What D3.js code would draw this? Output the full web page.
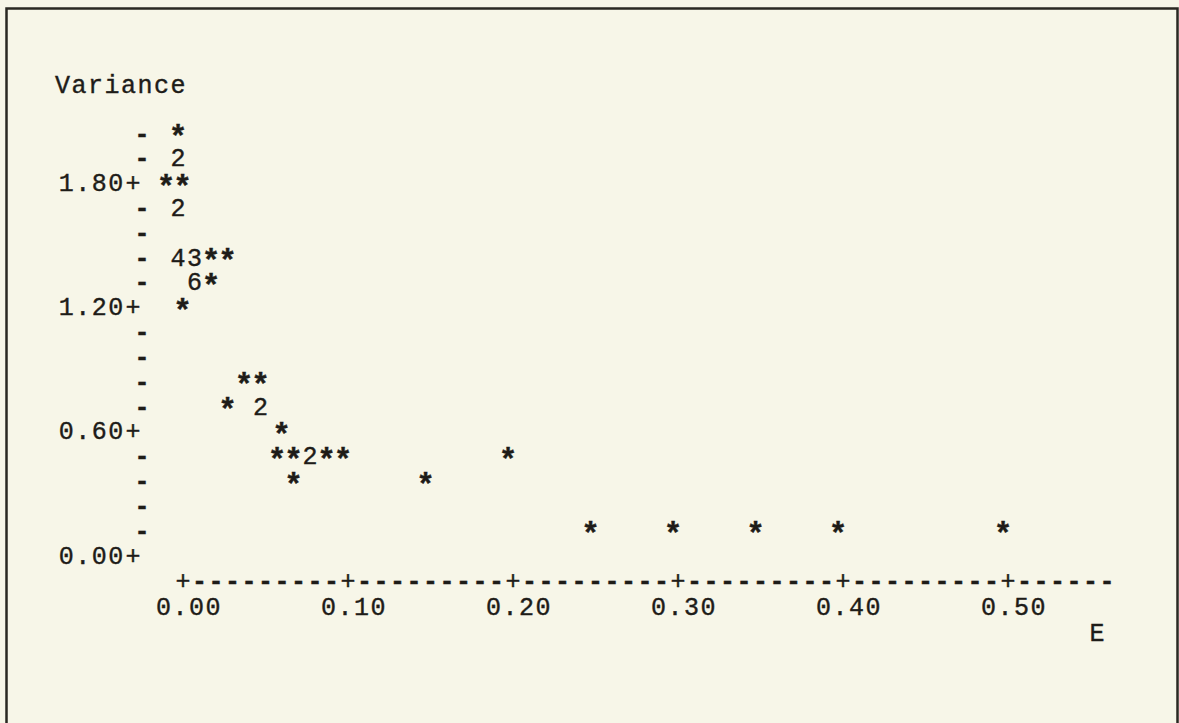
<!DOCTYPE html>
<html>
<head>
<meta charset="utf-8">
<script src="https://cdn.jsdelivr.net/npm/d3@7"></script>
<style>
  html, body { margin: 0; padding: 0; background: #f7f6e8; }
  svg { display: block; }
  text { font-family: "Liberation Mono", "DejaVu Sans Mono", monospace; fill: #1e1c18; }
</style>
</head>
<body>
<script>
// ---- data ----
const E        = [0.00, 0.00, 0.00, 0.01, 0.00, 0.00, 0.01, 0.02, 0.03, 0.01, 0.02, 0.01,
                  0.04, 0.05, 0.03, 0.05, 0.07, 0.06, 0.07, 0.08, 0.09, 0.10, 0.20,
                  0.07, 0.15, 0.25, 0.30, 0.35, 0.40, 0.50];
const variance = [2.04, 1.92, 1.80, 1.80, 1.68, 1.44, 1.44, 1.44, 1.44, 1.32, 1.32, 1.20,
                  0.84, 0.84, 0.72, 0.72, 0.60, 0.48, 0.48, 0.48, 0.48, 0.48, 0.48,
                  0.36, 0.36, 0.12, 0.12, 0.12, 0.12, 0.12];
const counts   = [1, 2, 1, 1, 2, 4, 3, 1, 1, 6, 1, 1,
                  1, 1, 1, 2, 1, 1, 1, 2, 1, 1, 1,
                  1, 1, 1, 1, 1, 1, 1];
const yTickValues = [0.00, 0.60, 1.20, 1.80];
const yTickLabels = ["0.00", "0.60", "1.20", "1.80"];
const yRowStep = 0.12;
const yTop = 2.04;
const xTickValues = [0.00, 0.10, 0.20, 0.30, 0.40, 0.50];
const xTickLabels = ["0.00", "0.10", "0.20", "0.30", "0.40", "0.50"];
const xAxisEnd = 0.56;
const xTitle = "E";
const yTitle = "Variance";

// ---- layout ----
const W = 1179, H = 723;
const FS = 25;
const colW = 16.5;
const svg = d3.select("body").append("svg").attr("width", W).attr("height", H);

// frame
svg.append("path").attr("d", `M6.5,${H} V8.5 H1177.5 V${H}`)
  .attr("fill", "none").attr("stroke", "#2a2822").attr("stroke-width", 2.5);

const x = d3.scaleLinear().domain([0, 0.5]).range([178, 178 + colW * 50]);
const y = d3.scaleLinear().domain([0, yTop]).range([555, 133]);

const g = svg.append("g").attr("font-size", FS).style("stroke", "#1e1c18").style("stroke-width", 0.4);

const axisX = x(0) - 36;          // column of the vertical axis
const tickShift = -12;            // labelled lines are printed slightly to the left
const baseOff = 8.5;              // text baseline below row centre
const isTickRow = v => yTickValues.some(t => Math.abs(t - v) < 1e-6);

// y title
g.append("text").attr("x", 55).attr("y", 85 + 8).attr("letter-spacing", colW - 0.6 * FS).text(yTitle);

// vertical axis rows
const nRows = Math.round(yTop / yRowStep);
const rows = d3.range(0, nRows + 1).map(i => +(i * yRowStep).toFixed(2));
g.selectAll("text.dash").data(rows.filter(v => !isTickRow(v))).join("text")
  .attr("class", "dash")
  .attr("x", axisX).attr("y", v => y(v) + baseOff)
  .attr("text-anchor", "middle").attr("font-weight", "bold").text("-");

g.selectAll("text.yplus").data(yTickValues).join("text")
  .attr("class", "yplus")
  .attr("x", axisX + tickShift + 3).attr("y", v => y(v) + baseOff)
  .attr("text-anchor", "middle").text("+");

g.selectAll("text.ylab").data(yTickValues).join("text")
  .attr("class", "ylab")
  .attr("x", axisX + tickShift + 3 - colW * 4.5).attr("y", v => y(v) + baseOff)
  .attr("letter-spacing", colW - 0.6 * FS)
  .text((v, i) => yTickLabels[i]);

// points
const pts = E.map((e, i) => ({ e, v: variance[i], c: counts[i] }));
g.selectAll("text.pt").data(pts).join("text")
  .attr("class", "pt")
  .attr("x", d => x(d.e) + (isTickRow(d.v) ? tickShift : 0))
  .attr("y", d => y(d.v) + (d.c > 1 ? baseOff : 14))
  .attr("text-anchor", "middle")
  .attr("font-size", d => d.c > 1 ? FS : 31)
  .attr("font-weight", d => d.c > 1 ? "normal" : "bold")
  .text(d => d.c > 1 ? String(d.c) : "*");

// horizontal axis line
const xAxisY = 580, xShift = 5;
const cols = d3.range(0, Math.round(xAxisEnd * 100) + 1).map(i => +(i / 100).toFixed(2));
const isXTick = c => xTickValues.some(t => Math.abs(t - c) < 1e-6);
g.selectAll("text.xax").data(cols).join("text")
  .attr("class", "xax")
  .attr("x", c => x(c) + xShift).attr("y", xAxisY + baseOff)
  .attr("text-anchor", "middle")
  .attr("font-weight", c => isXTick(c) ? "normal" : "bold")
  .text(c => isXTick(c) ? "+" : "-");

g.selectAll("text.xlab").data(xTickValues).join("text")
  .attr("class", "xlab")
  .attr("x", c => x(c) + xShift + 6).attr("y", 606 + baseOff)
  .attr("text-anchor", "middle")
  .attr("letter-spacing", colW - 0.6 * FS)
  .text((c, i) => xTickLabels[i]);

g.append("text").attr("x", 1097).attr("y", 632 + baseOff)
  .attr("text-anchor", "middle").text(xTitle);
</script>
</body>
</html>
